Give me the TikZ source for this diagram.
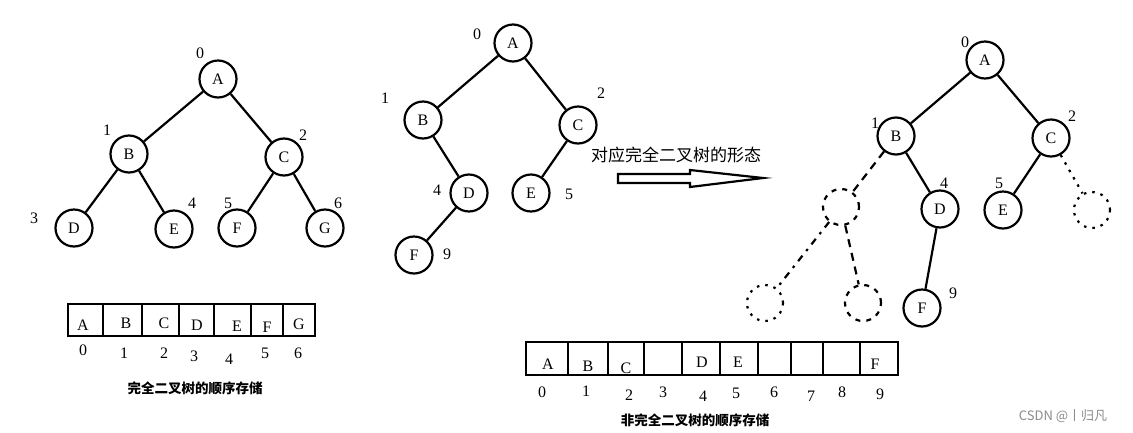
\documentclass[tikz,border=0pt]{standalone}
\usepackage{fontspec}
\setmainfont{Liberation Serif}
\newfontfamily\cjk{Noto Sans CJK SC}
\begin{document}
\begin{tikzpicture}[x=1pt,y=-1pt,
  vtx/.style={circle,draw,line width=2.2pt,minimum size=37pt,inner sep=0pt,font=\fontsize{16}{16}\selectfont},
  ghost/.style={circle,draw,line width=2.2pt,minimum size=36pt,inner sep=0pt,dash pattern=on 5pt off 6pt},
  dotghost/.style={circle,draw,line width=2.2pt,minimum size=36pt,inner sep=0pt,dash pattern=on 2.5pt off 6pt},
  edge/.style={line width=2.2pt},
  dedge/.style={line width=2.2pt,dash pattern=on 8pt off 6pt},
  ddedge/.style={line width=2.2pt,dash pattern=on 7pt off 6pt on 2.5pt off 6pt},
  dotedge/.style={line width=2.2pt,dash pattern=on 2.5pt off 6pt},
  idx/.style={font=\fontsize{16}{16}\selectfont,inner sep=0pt},
  cellt/.style={font=\fontsize{16}{16}\selectfont,inner sep=0pt},
  box/.style={line width=2.2pt},
  captxt/.style={font=\cjk\bfseries\fontsize{13.5}{14}\selectfont,inner sep=0pt},
]
\useasboundingbox (0,0) rectangle (1133,432);
\fill[white] (0,0) rectangle (1133,432);

% ---------- left tree ----------
\node[vtx] (la) at (218,79) {A};
\node[vtx] (lb) at (129,154) {B};
\node[vtx] (lc) at (284,157) {C};
\node[vtx] (ld) at (74,228) {D};
\node[vtx] (le) at (174,229) {E};
\node[vtx] (lf) at (237,228) {F};
\node[vtx] (lg) at (325,228) {G};
\draw[edge] (la) -- (lb);
\draw[edge] (la) -- (lc);
\draw[edge] (lb) -- (ld);
\draw[edge] (lb) -- (le);
\draw[edge] (lc) -- (lf);
\draw[edge] (lc) -- (lg);
\node[idx] (ln0) at (200,53) {0};
\node[idx] (ln1) at (107,130) {1};
\node[idx] (ln2) at (303,135) {2};
\node[idx] (ln3) at (34,218) {3};
\node[idx] (ln4) at (192,203) {4};
\node[idx] (ln5) at (228,203) {5};
\node[idx] (ln6) at (338,203) {6};

% ---------- left array ----------
\draw[box] (68,304) rectangle (315,336);
\foreach \x in {103,142,179,214,251,283} \draw[box] (\x,304) -- (\x,336);
\node[cellt] (lA) at (83,325) {A};
\node[cellt] (lB) at (126,323) {B};
\node[cellt] (lC) at (164,323) {C};
\node[cellt] (lD) at (197,325) {D};
\node[cellt] (lE) at (237,326) {E};
\node[cellt] (lF) at (267,327) {F};
\node[cellt] (lG) at (299,324) {G};
\node[idx] (li0) at (83,350) {0};
\node[idx] (li1) at (124,353) {1};
\node[idx] (li2) at (164,353) {2};
\node[idx] (li3) at (194,356) {3};
\node[idx] (li4) at (229,359) {4};
\node[idx] (li5) at (265,353) {5};
\node[idx] (li6) at (298,353) {6};
\node[captxt] (lcap) at (195,388) {完全二叉树的顺序存储};

% ---------- middle tree ----------
\node[vtx] (ma) at (513,43) {A};
\node[vtx] (mb) at (423,120) {B};
\node[vtx] (mc) at (578,125) {C};
\node[vtx] (md) at (469,193) {D};
\node[vtx] (me) at (531,193) {E};
\node[vtx] (mf) at (414,255) {F};
\draw[edge] (ma) -- (mb);
\draw[edge] (ma) -- (mc);
\draw[edge] (mb) -- (md);
\draw[edge] (mc) -- (me);
\draw[edge] (md) -- (mf);
\node[idx] (mn0) at (477,34) {0};
\node[idx] (mn1) at (385,98) {1};
\node[idx] (mn2) at (601,93) {2};
\node[idx] (mn4) at (437,190) {4};
\node[idx] (mn5) at (569,194) {5};
\node[idx] (mn9) at (447,254) {9};

% ---------- arrow and its text ----------
\node[font=\cjk\fontsize{17}{17}\selectfont,inner sep=0pt] (atext) at (676,155) {对应完全二叉树的形态};
\draw[line width=2.2pt,line join=miter] (618,174) -- (690,174) -- (690,170) -- (763,178) -- (690,187) -- (690,183) -- (618,183) -- cycle;

% ---------- right tree ----------
\node[vtx] (ra) at (985,60) {A};
\node[vtx] (rb) at (896,136) {B};
\node[vtx] (rc) at (1051,138) {C};
\node[vtx] (rd) at (940,209) {D};
\node[vtx] (re) at (1003,210) {E};
\node[vtx] (rf) at (922,308) {F};
\node[ghost] (g1) at (841,207) {};
\node[dotghost] (g3) at (765,303) {};
\node[ghost] (g4) at (863,303) {};
\node[dotghost] (g6) at (1092,210) {};
\draw[edge] (ra) -- (rb);
\draw[edge] (ra) -- (rc);
\draw[edge] (rb) -- (rd);
\draw[edge] (rc) -- (re);
\draw[edge] (rd) -- (rf);
\draw[dedge] (rb) -- (g1);
\draw[ddedge] (g1) -- (g3);
\draw[dedge] (g1) -- (g4);
\draw[dotedge] (rc) -- (g6);
\node[idx] (rn0) at (965,42) {0};
\node[idx] (rn1) at (875,123) {1};
\node[idx] (rn2) at (1072,116) {2};
\node[idx] (rn4) at (944,183) {4};
\node[idx] (rn5) at (999,183) {5};
\node[idx] (rn9) at (953,293) {9};

% ---------- right array ----------
\draw[box] (526,342) rectangle (898,375);
\foreach \x in {568,608,644,682,720,758,791,823,860} \draw[box] (\x,342) -- (\x,375);
\node[cellt] (rA) at (548,364) {A};
\node[cellt] (rB) at (588,366) {B};
\node[cellt] (rC) at (626,368) {C};
\node[cellt] (rD) at (702,362) {D};
\node[cellt] (rE) at (738,362) {E};
\node[cellt] (rF) at (875,364) {F};
\node[idx] (ri0) at (542,392) {0};
\node[idx] (ri1) at (586,391) {1};
\node[idx] (ri2) at (629,395) {2};
\node[idx] (ri3) at (663,392) {3};
\node[idx] (ri4) at (703,396) {4};
\node[idx] (ri5) at (736,393) {5};
\node[idx] (ri6) at (774,392) {6};
\node[idx] (ri7) at (811,396) {7};
\node[idx] (ri8) at (842,392) {8};
\node[idx] (ri9) at (880,394) {9};
\node[captxt] (rcap) at (695,420) {非完全二叉树的顺序存储};

% ---------- watermark ----------
\node[font=\cjk\fontsize{13}{13}\selectfont,text=black!45,inner sep=0pt] (wm) at (1063,416) {CSDN @丨归凡};
\end{tikzpicture}
\end{document}
